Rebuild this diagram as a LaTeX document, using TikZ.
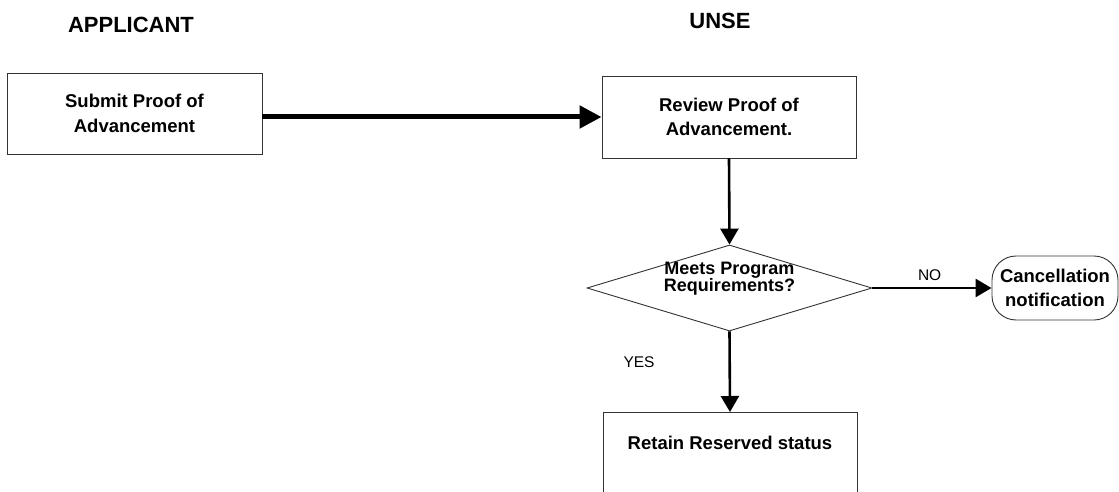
\documentclass[tikz,border=0pt]{standalone}
\usepackage{fontspec}
\setmainfont{Liberation Sans}
\usetikzlibrary{shapes.geometric,arrows.meta}

\tikzset{
  header/.style={font=\fontsize{22}{26}\selectfont\bfseries},
  boxtext/.style={font=\fontsize{18.5}{24.5}\selectfont\bfseries, align=center},
  tighttext/.style={font=\fontsize{18}{17}\selectfont\bfseries, align=center},
  procbox/.style={draw=black!80, line width=0.9pt, rectangle, inner sep=0pt, boxtext},
  decision/.style={draw=black!80, line width=0.9pt, diamond, inner sep=0pt},
  terminal/.style={draw=black!80, line width=0.9pt, rectangle, rounded corners=24pt, inner sep=0pt, boxtext},
  flowlabel/.style={font=\fontsize{15.5}{18}\selectfont},
  bigflow/.style={line width=5pt, -{Triangle[length=22pt,width=22pt]}},
  flow/.style={line width=2.6pt, -{Triangle[length=16pt,width=18pt]}},
}

\begin{document}
\begin{tikzpicture}[x=1pt, y=-1pt]
  \clip (0,0) rectangle (1119,492);
  \fill[white] (0,0) rectangle (1119,492);

  % lane headers
  \node[header] (happ)  at (131,25) {APPLICANT};
  \node[header] (hunse) at (720,21) {UNSE};

  % process steps
  \node[procbox, minimum width=255pt, minimum height=81pt] (submit) at (134.5,113.5)
    {Submit Proof of\\Advancement};
  \node[procbox, minimum width=254pt, minimum height=82pt] (review) at (729,117)
    {Review Proof of\\Advancement.};
  \node[decision, minimum width=285pt, minimum height=86pt,
        label={[name=dtext, tighttext, yshift=9pt]center:Meets Program\\Requirements?}]
    (decide) at (729.5,288) {};
  \node[terminal, minimum width=126pt, minimum height=64pt] (cancel) at (1055,288)
    {Cancellation\\notification};
  \node[procbox, minimum width=254pt, minimum height=100pt, anchor=north,
        label={[name=rtext, boxtext, yshift=-41pt]north:Retain Reserved status}]
    (retain) at (730,412) {};

  % connectors
  \draw[bigflow] (submit.east |- review.west) -- (review.west);
  \draw[flow] (review.south) -- (decide.north);
  \draw[flow] (decide.east) -- node[flowlabel, above=3pt, pos=0.48] (nolbl) {NO} (cancel.west);
  \draw[flow] (decide.south) -- (retain.north);
  \node[flowlabel] (yeslbl) at (639,362) {YES};
\end{tikzpicture}
\end{document}
